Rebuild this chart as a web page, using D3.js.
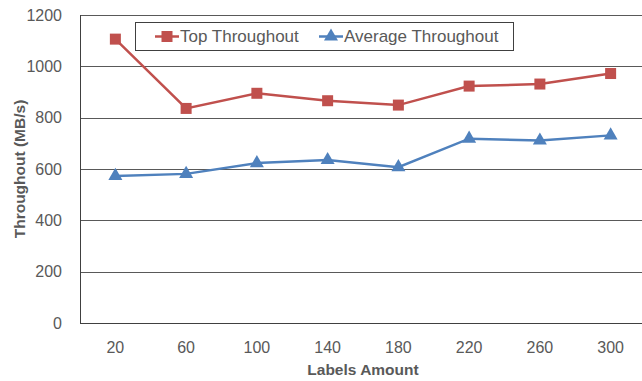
<!DOCTYPE html>
<html><head><meta charset="utf-8">
<script src="https://cdn.jsdelivr.net/npm/d3@7"></script>
<style>body{margin:0;background:#fff}svg{display:block}</style>
</head><body>
<script>
const categories = ["20","60","100","140","180","220","260","300"];
const topThroughput = [1106, 836, 895, 866, 849, 923, 931, 972];
const avgThroughput = [573, 581, 623, 635, 607, 718, 711, 731];
const yTicks = [0,200,400,600,800,1000,1200];
const seriesNames = ["Top Throughout","Average Throughout"];

const W=642,H=381;
const m={left:80,top:15,right:-4,bottom:58};
const svg=d3.select("body").append("svg").attr("width",W).attr("height",H);
const x=d3.scaleBand().domain(categories).range([m.left,W-m.right]);
const y=d3.scaleLinear().domain([0,1200]).range([H-m.bottom,m.top]);
const font="'Liberation Sans', Arial, sans-serif";
const txt="#595959";

// gridlines
svg.append("g").selectAll("line").data(yTicks).join("line")
  .attr("x1",m.left).attr("x2",W).attr("y1",d=>Math.round(y(d))+0.5).attr("y2",d=>Math.round(y(d))+0.5)
  .attr("stroke",d=>d===0?"#404040":"#595959").attr("stroke-width",1);
// left axis line
svg.append("line").attr("x1",m.left+0.5).attr("x2",m.left+0.5).attr("y1",y(1200)).attr("y2",y(0)+0.5)
  .attr("stroke","#404040");

// y tick labels
svg.append("g").selectAll("text").data(yTicks).join("text")
  .attr("x",62).attr("y",d=>y(d)).attr("dy","0.35em").attr("text-anchor","end")
  .attr("font-family",font).attr("font-size",16).attr("fill",txt).text(d=>d);
// x tick labels
svg.append("g").selectAll("text").data(categories).join("text")
  .attr("x",d=>x(d)+x.bandwidth()/2).attr("y",347).attr("dy","0.35em").attr("text-anchor","middle")
  .attr("font-family",font).attr("font-size",16).attr("fill",txt).text(d=>d);

// axis titles
svg.append("text").attr("x",363).attr("y",370).attr("dy","0.35em").attr("text-anchor","middle")
  .attr("font-family",font).attr("font-size",15.5).attr("font-weight","bold").attr("fill",txt).text("Labels Amount");
svg.append("text").attr("transform","translate(20,169) rotate(-90)").attr("dy","0.35em").attr("text-anchor","middle")
  .attr("font-family",font).attr("font-size",15.5).attr("font-weight","bold").attr("fill",txt).text("Throughout (MB/s)");

const cx=(d,i)=>x(categories[i])+x.bandwidth()/2;
const line=d3.line().x((d,i)=>cx(d,i)).y(d=>y(d));
const red="#C0504D", blue="#4F81BD";
const tri=d3.symbol().type(d3.symbolTriangle).size(85);

svg.append("path").datum(topThroughput).attr("d",line).attr("fill","none").attr("stroke",red).attr("stroke-width",2.5);
svg.append("g").selectAll("rect").data(topThroughput).join("rect")
  .attr("x",(d,i)=>cx(d,i)-5.5).attr("y",d=>y(d)-5.5).attr("width",11).attr("height",11).attr("fill",red);

svg.append("path").datum(avgThroughput).attr("d",line).attr("fill","none").attr("stroke",blue).attr("stroke-width",2.5);
svg.append("g").selectAll("path").data(avgThroughput).join("path")
  .attr("transform",(d,i)=>`translate(${cx(d,i)},${y(d)})`).attr("d",tri).attr("fill",blue);

// legend
const lg=svg.append("g");
lg.append("rect").attr("x",135.5).attr("y",22.5).attr("width",378).attr("height",28).attr("fill","#fff").attr("stroke","#404040");
const ly=36.5;
lg.append("line").attr("x1",155).attr("x2",179).attr("y1",ly).attr("y2",ly).attr("stroke",red).attr("stroke-width",2.5);
lg.append("rect").attr("x",167-5.5).attr("y",ly-5.5).attr("width",11).attr("height",11).attr("fill",red);
lg.append("text").attr("x",180).attr("y",ly).attr("dy","0.35em").attr("font-family",font).attr("font-size",17).attr("fill",txt).text(seriesNames[0]);
lg.append("line").attr("x1",319).attr("x2",343).attr("y1",ly).attr("y2",ly).attr("stroke",blue).attr("stroke-width",2.5);
lg.append("path").attr("transform",`translate(331,${ly})`).attr("d",tri).attr("fill",blue);
lg.append("text").attr("x",344).attr("y",ly).attr("dy","0.35em").attr("font-family",font).attr("font-size",17).attr("fill",txt).text(seriesNames[1]);
</script>
</body></html>
